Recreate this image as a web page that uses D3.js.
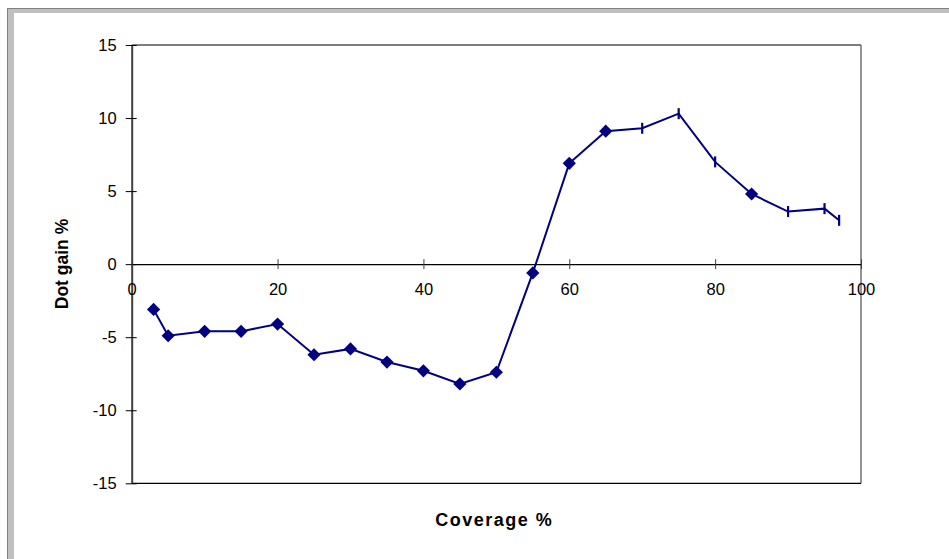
<!DOCTYPE html>
<html><head><meta charset="utf-8">
<script src="https://cdn.jsdelivr.net/npm/d3@7"></script>
<style>html,body{margin:0;padding:0;background:#fff;}svg{display:block;font-family:"Liberation Sans",Arial,sans-serif;}</style>
</head><body>
<svg id="c" width="949" height="559"></svg>
<script>
const coverage = [3, 5, 10, 15, 20, 25, 30, 35, 40, 45, 50, 55, 60, 65, 70, 75, 80, 85, 90, 95, 97];
const dotGain = [-3.1, -4.9, -4.6, -4.6, -4.1, -6.2, -5.8, -6.7, -7.3, -8.2, -7.4, -0.6, 6.9, 9.1, 9.3, 10.3, 7.0, 4.8, 3.6, 3.8, 3.0];
const markerType = ["d","d","d","d","d","d","d","d","d","d","d","d","d","d","t","t","t","d","t","t","t"];
const xTicks = [0, 20, 40, 60, 80, 100];
const yTicks = [-15, -10, -5, 0, 5, 10, 15];

const svg = d3.select("#c");
// window frame
svg.append("rect").attr("x",7).attr("y",8).attr("width",960).attr("height",600).attr("fill","#c0c0c0");
svg.append("line").attr("x1",7).attr("x2",949).attr("y1",8.5).attr("y2",8.5).attr("stroke","#808080");
svg.append("line").attr("x1",7.5).attr("x2",7.5).attr("y1",8).attr("y2",559).attr("stroke","#808080");
svg.append("rect").attr("x",14).attr("y",13).attr("width",940).attr("height",560).attr("fill","#fff");

const L=131.7, R=861, T=45, B=483.3;
const x = d3.scaleLinear().domain([0,100]).range([L,R]);
const y = d3.scaleLinear().domain([-15,15]).range([B,T]);
const FS = 16.5;

// plot area border
svg.append("line").attr("x1",L).attr("x2",R).attr("y1",T).attr("y2",T).attr("stroke","#000").attr("stroke-width",1.2);
svg.append("line").attr("x1",R).attr("x2",R).attr("y1",T).attr("y2",B).attr("stroke","#707070").attr("stroke-width",1.5);
svg.append("line").attr("x1",L).attr("x2",R).attr("y1",B).attr("y2",B).attr("stroke","#000").attr("stroke-width",1.2);

// y axis
const yAxis = svg.append("g").attr("transform",`translate(${L},0)`)
  .call(d3.axisLeft(y).tickValues(yTicks).tickSize(0).tickPadding(15).tickFormat(d3.format("d")));
yAxis.select(".domain").attr("stroke","#404040").attr("stroke-width",2);
yAxis.selectAll("text").attr("font-size",FS).attr("fill","#000").attr("font-family","Liberation Sans, Arial, sans-serif");
yAxis.selectAll(".tick").append("line").attr("x1",-6).attr("x2",5).attr("stroke","#000");
yAxis.selectAll(".tick text").text(d => d < 0 ? "-" + Math.abs(d) : d);

// x axis at y=0
const xAxis = svg.append("g").attr("transform",`translate(0,${y(0)})`)
  .call(d3.axisBottom(x).tickValues(xTicks).tickSize(0).tickPadding(19).tickFormat(d3.format("d")));
xAxis.select(".domain").attr("stroke","#000").attr("stroke-width",1.2);
xAxis.selectAll("text").attr("font-size",FS).attr("fill","#000").attr("font-family","Liberation Sans, Arial, sans-serif");
xAxis.selectAll(".tick").append("line").attr("y1",-5).attr("y2",5).attr("stroke","#404040");

const data = coverage.map((c,i)=>({c, g: dotGain[i], m: markerType[i]}));
const color = "#000080";
svg.append("path").datum(data)
  .attr("fill","none").attr("stroke",color).attr("stroke-width",2)
  .attr("d", d3.line().x(d=>x(d.c)).y(d=>y(d.g)));

svg.selectAll("path.dia").data(data.filter(d=>d.m==="d")).join("path")
  .attr("class","dia")
  .attr("d","M0,-6.6L6.6,0L0,6.6L-6.6,0Z")
  .attr("transform",d=>`translate(${x(d.c)},${y(d.g)})`)
  .attr("fill",color);
svg.selectAll("line.tk").data(data.filter(d=>d.m==="t")).join("line")
  .attr("class","tk")
  .attr("x1",d=>x(d.c)).attr("x2",d=>x(d.c))
  .attr("y1",d=>y(d.g)-5.5).attr("y2",d=>y(d.g)+5.5)
  .attr("stroke",color).attr("stroke-width",2.2);

// titles
svg.append("text").attr("x",(L+R)/2 - 2).attr("y",525.5).attr("text-anchor","middle")
  .attr("font-size",18).attr("font-weight","bold").attr("letter-spacing",1.5).text("Coverage %");
svg.append("text").attr("transform",`translate(68,264) rotate(-90)`).attr("text-anchor","middle")
  .attr("font-size",17.5).attr("font-weight","bold").text("Dot gain %");
</script>
</body></html>
